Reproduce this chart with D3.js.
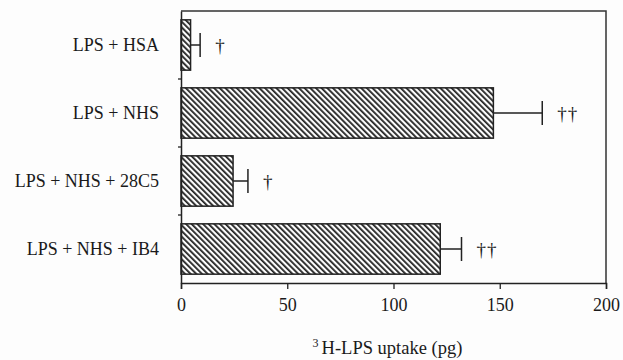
<!DOCTYPE html>
<html>
<head>
<meta charset="utf-8">
<script src="https://cdn.jsdelivr.net/npm/d3@7"></script>
<style>
  body { margin: 0; background: #fdfdfd; }
  svg text { font-family: "Liberation Serif", "DejaVu Serif", serif; fill: #1a1a1a; }
</style>
</head>
<body>
<div id="chart"></div>
<script>
// Data
var categories = ["LPS + HSA", "LPS + NHS", "LPS + NHS + 28C5", "LPS + NHS + IB4"];
var uptake = [4.5, 147, 24.5, 122];      // mean 3H-LPS uptake (pg)
var errors = [4.5, 23, 7, 10];           // upper error bar length
var marks = ["\u2020", "\u2020\u2020", "\u2020", "\u2020\u2020"];
var xTicks = [0, 50, 100, 150, 200];

var W = 623, H = 360;
var margin = {top: 11, right: 17, bottom: 77, left: 181};
var w = W - margin.left - margin.right;
var h = H - margin.top - margin.bottom;

var svg = d3.select("#chart").append("svg")
    .attr("width", W).attr("height", H);

// hatch pattern for the bars
var defs = svg.append("defs");
defs.append("pattern")
    .attr("id", "hatch")
    .attr("patternUnits", "userSpaceOnUse")
    .attr("width", 4).attr("height", 4)
    .attr("patternTransform", "rotate(-45)")
    .append("rect")
    .attr("x", 0).attr("y", 0)
    .attr("width", 1.8).attr("height", 4)
    .attr("fill", "#222");

var g = svg.append("g")
    .attr("transform", "translate(" + margin.left + "," + margin.top + ")");

var x = d3.scaleLinear().domain([0, 200]).range([0, w]);
var y = d3.scaleBand().domain(categories).range([0, h])
    .paddingInner(0.26).paddingOuter(0.13);

// frame: top and right sides
g.append("path")
    .attr("d", "M0,0H" + w + "V" + h)
    .attr("fill", "none").attr("stroke", "#333").attr("stroke-width", 1.5);

// x axis
var xAxis = g.append("g")
    .attr("transform", "translate(0," + h + ")")
    .call(d3.axisBottom(x).tickValues(xTicks).tickSize(6).tickPadding(9));
xAxis.select(".domain").attr("stroke", "#222").attr("stroke-width", 1.5);
xAxis.selectAll(".tick line").attr("stroke", "#222").attr("stroke-width", 1.3);
xAxis.selectAll("text").style("font-size", "18px").style("font-family", "Liberation Serif").attr("fill", "#1a1a1a");

// y axis: small ticks between categories
var yAxis = g.append("g").call(d3.axisLeft(y).tickSize(0).tickPadding(22));
yAxis.select(".domain").attr("stroke", "#222").attr("stroke-width", 1.5);
yAxis.selectAll("text").style("font-size", "18px").style("font-family", "Liberation Serif").attr("fill", "#1a1a1a");
g.selectAll(".sep").data(categories.slice(1)).enter().append("line")
    .attr("x1", -3).attr("x2", 0)
    .attr("y1", function(d) { return y(d) - y.step() * y.paddingInner() / 2; })
    .attr("y2", function(d) { return y(d) - y.step() * y.paddingInner() / 2; })
    .attr("stroke", "#222").attr("stroke-width", 1.3);

// bars
g.selectAll(".bar").data(uptake).enter().append("rect")
    .attr("x", x(0))
    .attr("y", function(d, i) { return y(categories[i]); })
    .attr("width", function(d) { return x(d) - x(0); })
    .attr("height", y.bandwidth())
    .attr("fill", "url(#hatch)")
    .attr("stroke", "#222").attr("stroke-width", 1.5);

// error bars
var cap = 12;
g.selectAll(".err").data(uptake).enter().append("path")
    .attr("d", function(d, i) {
        var cy = y(categories[i]) + y.bandwidth() / 2;
        var x1 = x(d), x2 = x(d + errors[i]);
        return "M" + x1 + "," + cy + "H" + x2 + "M" + x2 + "," + (cy - cap) + "V" + (cy + cap);
    })
    .attr("fill", "none").attr("stroke", "#222").attr("stroke-width", 1.5);

// significance daggers
g.selectAll(".mark").data(marks).enter().append("text")
    .attr("x", function(d, i) { return x(uptake[i] + errors[i]) + 15; })
    .attr("y", function(d, i) { return y(categories[i]) + y.bandwidth() / 2; })
    .attr("dy", "0.38em")
    .style("font-size", "19px")
    .style("letter-spacing", "1px")
    .text(function(d) { return d; });

// x axis title with superscript 3
var title = svg.append("text")
    .attr("x", margin.left + x(100) - 6)
    .attr("y", 354)
    .attr("text-anchor", "middle")
    .style("font-size", "18.5px");
title.append("tspan").attr("dy", "-7").style("font-size", "12px").text("3 ");
title.append("tspan").attr("dy", "7").text("H-LPS uptake (pg)");
</script>
</body>
</html>
